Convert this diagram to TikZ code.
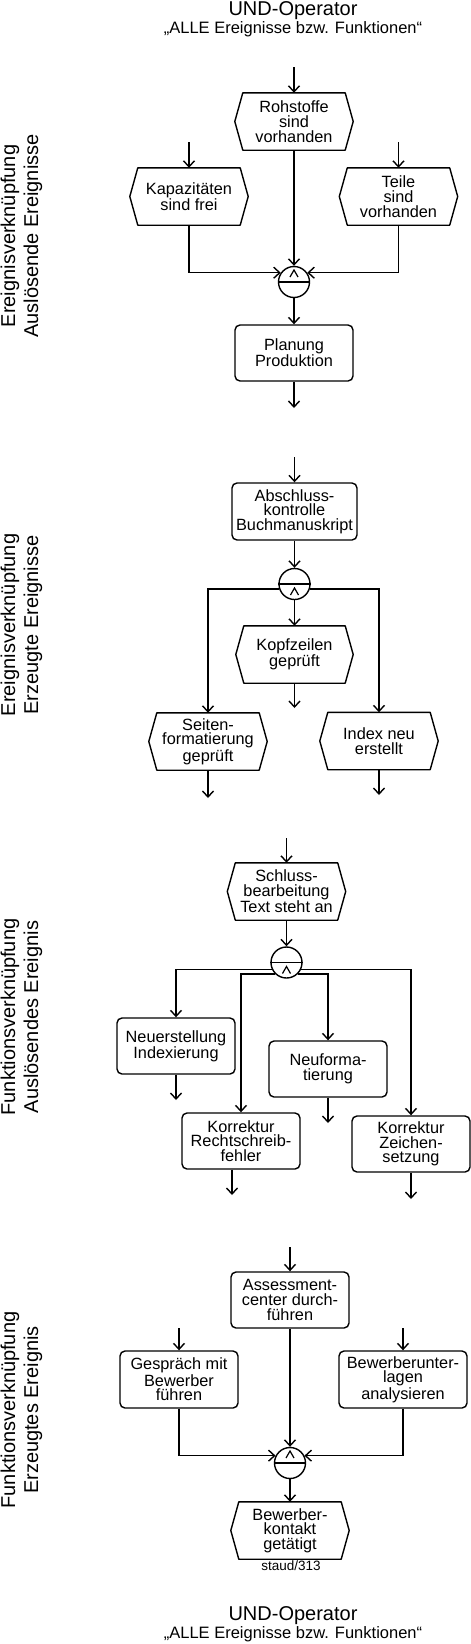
\documentclass[tikz,border=0pt]{standalone}
\usepackage{fontspec}
\setmainfont{Liberation Sans}
\usetikzlibrary{arrows.meta}
\newcommand\hexev[4][118]{%
  \node[ebox, minimum width=#1pt] (#2) at (#3) {#4};
  \draw[ln, line join=round] ([xshift=8pt]#2.north west) -- ([xshift=-8pt]#2.north east) -- (#2.east)
    -- ([xshift=-8pt]#2.south east) -- ([xshift=8pt]#2.south west) -- (#2.west) -- cycle;}
\newcommand\UNDup[2]{%
  \node[undop] (#1) at (#2) {};
  \draw[ln] (#1.west) -- (#1.east);
  \draw[thinln] ([shift={(-4,-5)}]#1.center) -- ([shift={(0,-12)}]#1.center) -- ([shift={(4,-5)}]#1.center);}
\newcommand\UNDdown[2]{%
  \node[undop] (#1) at (#2) {};
  \draw[ln] (#1.west) -- (#1.east);
  \draw[thinln] ([shift={(-4,11)}]#1.center) -- ([shift={(0,4)}]#1.center) -- ([shift={(4,11)}]#1.center);}
\begin{document}
\begin{tikzpicture}[x=1pt,y=-1pt,
  ln/.style={line width=1.4pt},
  thinln/.style={line width=1.2pt},
  arr/.style={ln,-{Straight Barb[length=6pt,width=11pt]}},
  txt/.style={font=\fontsize{16.3}{14.7}\selectfont, align=center, inner sep=0pt},
  fbox/.style={txt, draw, ln, rounded corners=5pt, minimum width=118pt, minimum height=56pt},
  ebox/.style={txt, minimum width=118pt, minimum height=57pt},
  undop/.style={circle, draw, ln, minimum size=31pt, inner sep=0pt},
  sidelbl/.style={font=\fontsize{20}{22}\selectfont, rotate=90, anchor=base, inner sep=0pt},
  ttl/.style={font=\fontsize{20}{22}\selectfont, anchor=base, inner sep=0pt},
  subttl/.style={font=\fontsize{16.5}{18}\selectfont, anchor=base, inner sep=0pt},
]
\useasboundingbox (0,0) rectangle (471,1644);

% titles
\node[ttl] (t1) at (293,15) {UND-Operator};
\node[subttl] (t2) at (293,33) {„ALLE Ereignisse bzw. Funktionen“};
\node[ttl] (b1) at (293,1620) {UND-Operator};
\node[subttl] (b2) at (293,1638) {„ALLE Ereignisse bzw. Funktionen“};

% side labels
\node[sidelbl] (L1a) at (15,236) {Ereignisverknüpfung};
\node[sidelbl] (L1b) at (38,236) {Auslösende Ereignisse};
\node[sidelbl] (L2a) at (15,625) {Ereignisverknüpfung};
\node[sidelbl] (L2b) at (38,625) {Erzeugte Ereignisse};
\node[sidelbl] (L3a) at (15,1017) {Funktionsverknüpfung};
\node[sidelbl] (L3b) at (38,1017) {Auslösendes Ereignis};
\node[sidelbl] (L4a) at (15,1410) {Funktionsverknüpfung};
\node[sidelbl] (L4b) at (38,1410) {Erzeugtes Ereignis};

% ---------- section 1
\hexev{R}{294,121.5}{Rohstoffe\\sind\\vorhanden}
\hexev{K}{189,196.5}{Kapazitäten\\sind frei}
\hexev{T}{398.5,196.5}{Teile\\sind\\vorhanden}
\UNDup{A1}{294,282}
\node[fbox] (P) at (294,353) {Planung\\Produktion};
\coordinate (R0) at (294,67);
\coordinate (K0) at (189,142);
\coordinate (T0) at (398.5,142);
\coordinate (P1) at (294,408);
\draw[arr] (R0) -- (R.north);
\draw[arr] (K0) -- (K.north);
\draw[arr] (T0) -- (T.north);
\draw[arr] (R.south) -- (A1.north);
\draw[arr] (K.south) |- (A1.145);
\draw[arr] (T.south) |- (A1.35);
\draw[arr] (A1.south) -- (P.north);
\draw[arr] (P.south) -- (P1);

% ---------- section 2
\coordinate (B0) at (294.5,457);
\node[fbox, minimum width=125pt, minimum height=57pt] (B) at (294.5,511.5) {Abschluss-\\kontrolle\\Buchmanuskript};
\UNDdown{A2}{294.5,584}
\hexev[117]{KZ}{294.5,654.5}{Kopfzeilen\\geprüft}
\hexev{S}{208,741.5}{Seiten-\\formatierung\\geprüft}
\hexev{I}{379,741}{Index neu\\erstellt}
\coordinate (KZ1) at (294.5,708);
\coordinate (S1) at (208,798);
\coordinate (I1) at (379,795);
\draw[arr] (B0) -- (B.north);
\draw[arr] (B.south) -- (A2.north);
\draw[arr] (A2.south) -- (KZ.north);
\draw[arr] (A2.198) -| (S.north);
\draw[arr] (A2.-18) -| (I.north);
\draw[arr] (KZ.south) -- (KZ1);
\draw[arr] (S.south) -- (S1);
\draw[arr] (I.south) -- (I1);

% ---------- section 3
\coordinate (SB0) at (286.5,838);
\hexev{SB}{286.5,891.5}{Schluss-\\bearbeitung\\Text steht an}
\UNDdown{A3}{286.5,962.5}
\node[fbox] (NE) at (176,1046) {Neuerstellung\\Indexierung};
\node[fbox] (KR) at (241,1141) {Korrektur\\Rechtschreib-\\fehler};
\node[fbox] (NF) at (328,1069) {Neuforma-\\tierung};
\node[fbox] (KZS) at (411,1144) {Korrektur\\Zeichen-\\setzung};
\coordinate (NE1) at (176,1100);
\coordinate (KR1) at (232,1195);
\coordinate (NF1) at (328,1123);
\coordinate (KZS1) at (411,1199);
\draw[arr] (SB0) -- (SB.north);
\draw[arr] (SB.south) -- (A3.north);
\draw[arr] (A3.205) -| (NE.north);
\draw[arr] (A3.225) -| (KR.north);
\draw[arr] (A3.-45) -| (NF.north);
\draw[arr] (A3.-25) -| (KZS.north);
\draw[arr] (NE.south) -- (NE1);
\draw[arr] (KR.south -| KR1) -- (KR1);
\draw[arr] (NF.south) -- (NF1);
\draw[arr] (KZS.south) -- (KZS1);

% ---------- section 4
\coordinate (AC0) at (290,1247);
\coordinate (G0) at (179,1328);
\coordinate (BU0) at (403,1328);
\node[fbox] (AC) at (290,1300) {Assessment-\\center durch-\\führen};
\node[fbox, minimum height=57pt] (G) at (179,1379.5) {Gespräch mit\\Bewerber\\führen};
\node[fbox, minimum width=128pt, minimum height=57pt] (BU) at (403,1379.5) {Bewerberunter-\\lagen\\analysieren};
\UNDup{A4}{290,1463}
\hexev{BK}{290,1530.5}{Bewerber-\\kontakt\\getätigt}
\node[font=\fontsize{13.5}{14}\selectfont, fill=white, inner xsep=1.5pt, inner ysep=0pt, anchor=base] (st) at (291,1570) {staud/313};
\draw[arr] (AC0) -- (AC.north);
\draw[arr] (G0) -- (G.north);
\draw[arr] (BU0) -- (BU.north);
\draw[arr] (AC.south) -- (A4.north);
\draw[arr] (G.south) |- (A4.153);
\draw[arr] (BU.south) |- (A4.27);
\draw[arr] (A4.south) -- (BK.north);
\end{tikzpicture}
\end{document}
